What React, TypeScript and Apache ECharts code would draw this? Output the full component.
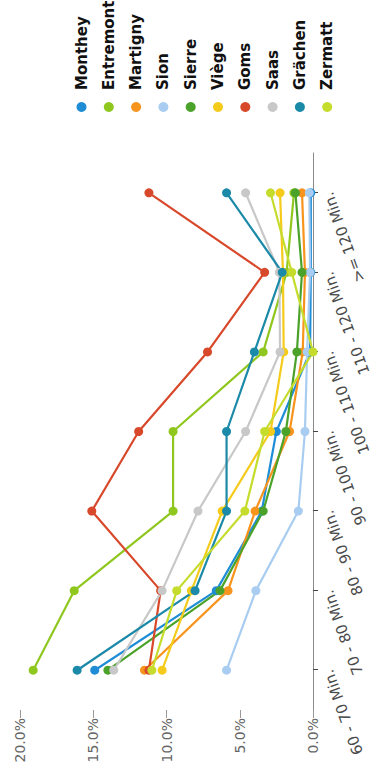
import React, { useEffect, useRef } from "react";
import * as echarts from "echarts";

const categories = [
  "60 - 70 Min.",
  "70 - 80 Min.",
  "80 - 90 Min.",
  "90 - 100 Min.",
  "100 - 110 Min.",
  "110 - 120 Min.",
  ">= 120 Min.",
];

const regionNames = ["Monthey", "Entremont", "Martigny", "Sion", "Sierre", "Viège", "Goms", "Saas", "Grächen", "Zermatt"];
const regionColors = ["#1f8dd6", "#8fc71f", "#f7941d", "#a9cdf0", "#4ba22a", "#f5cb1b", "#d8482a", "#c8c8c8", "#1a8aa8", "#c5dc2d"];

const monthey = [14.9, 6.6, 3.5, 2.5, 0.2, 0.15, 0.15];
const entremont = [19.1, 16.3, 9.55, 9.55, 3.4, 1.8, 1.3];
const martigny = [11.5, 5.8, 3.95, 1.6, 0.7, 0.55, 0.75];
const sion = [5.9, 3.9, 1.0, 0.55, 0.4, 0.2, 0.25];
const sierre = [14.0, 6.35, 3.4, 1.85, 1.1, 0.75, 1.2];
const viege = [10.3, 8.3, 6.2, 2.9, 2.0, 2.05, 2.25];
const goms = [11.2, 10.4, 15.1, 11.9, 7.2, 3.3, 11.2];
const saas = [13.6, 10.3, 7.85, 4.6, 2.25, 2.3, 4.6];
const graechen = [16.1, 8.05, 5.9, 5.9, 4.0, 2.1, 5.9];
const zermatt = [11.0, 9.3, 4.65, 3.3, 0, 1.45, 2.9];

const seriesValues = [monthey, entremont, martigny, sion, sierre, viege, goms, saas, graechen, zermatt];

const valueTicks = { min: 0, max: 20, interval: 5 };

const FONT = "DejaVu Sans";

export default function App() {
  const ref = useRef<HTMLDivElement>(null);

  useEffect(() => {
    if (!ref.current) return;
    const chart = echarts.init(ref.current, undefined, { renderer: "svg" });
    chart.setOption({
      animation: false,
      backgroundColor: "#ffffff",
      color: regionColors,
      grid: { left: 70, right: 153, top: 20, bottom: 66, containLabel: false },
      legend: {
        orient: "vertical",
        left: 663,
        top: 69,
        icon: "circle",
        itemWidth: 10,
        itemHeight: 10,
        itemGap: 12.3,
        data: regionNames,
        textStyle: {
          fontFamily: FONT,
          fontWeight: "bold",
          fontSize: 15,
          lineHeight: 15,
          color: "#111",
          padding: [0, 0, 0, 7],
        },
      },
      xAxis: {
        type: "category",
        data: categories,
        boundaryGap: true,
        axisLine: { show: true, lineStyle: { color: "#8a8a8a", width: 1 } },
        axisTick: { show: true, alignWithLabel: true, length: 5, lineStyle: { color: "#444" } },
        axisLabel: {
          rotate: 20,
          margin: 15,
          fontFamily: FONT,
          fontSize: 15,
          color: "#4a4a4a",
          interval: 0,
        },
        splitLine: { show: false },
      },
      yAxis: {
        type: "value",
        min: valueTicks.min,
        max: valueTicks.max,
        interval: valueTicks.interval,
        axisLine: { show: false },
        axisTick: { show: true, length: 8, lineStyle: { color: "#999" } },
        axisLabel: {
          margin: 8,
          fontFamily: FONT,
          fontSize: 14,
          color: "#666",
          formatter: (v: number) => v.toFixed(1) + "%",
        },
        splitLine: { show: false },
      },
      series: regionNames.map((name, i) => ({
        name,
        type: "line",
        data: seriesValues[i],
        symbol: "circle",
        symbolSize: 9,
        lineStyle: { width: 2.2, color: regionColors[i] },
        itemStyle: { color: regionColors[i] },
      })),
    });
    return () => chart.dispose();
  }, []);

  return (
    <div
      style={{
        position: "absolute",
        left: 0,
        top: 0,
        width: 780,
        height: 379,
        transformOrigin: "0 0",
        transform: "translate(0px, 780px) rotate(-90deg)",
      }}
    >
      <div ref={ref} style={{ width: 780, height: 379 }} />
    </div>
  );
}
